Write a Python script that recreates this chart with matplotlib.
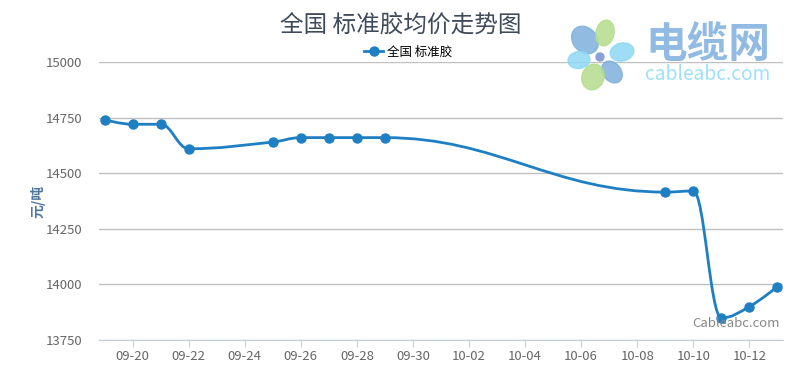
import numpy as np
import pandas as pd
import matplotlib
matplotlib.use("Agg")
import matplotlib.pyplot as plt
import matplotlib.dates as mdates
from matplotlib.path import Path
from matplotlib.patches import PathPatch, Ellipse
from matplotlib.lines import Line2D

plt.rcParams['font.family'] = ['Noto Sans CJK SC', 'DejaVu Sans']

# data
dates = ["2018-09-19", "2018-09-20", "2018-09-21", "2018-09-22", "2018-09-25",
         "2018-09-26", "2018-09-27", "2018-09-28", "2018-09-29", "2018-10-09",
         "2018-10-10", "2018-10-11", "2018-10-12", "2018-10-13"]
prices = [14740, 14720, 14720, 14610, 14640, 14660, 14660, 14660, 14660,
          14415, 14420, 13850, 13900, 13990]
tick_dates = pd.date_range("2018-09-20", "2018-10-12", freq="2D")
y_ticks = [13750, 14000, 14250, 14500, 14750, 15000]

c_line = "#1f7fc3"

x = mdates.date2num(pd.to_datetime(dates))
y = np.array(prices, dtype=float)


def spline_path(xs, ys, smoothing=1.5):
    # highcharts style spline: control points from neighbours
    denom = smoothing + 1
    n = len(xs)
    left = [None] * n
    right = [None] * n
    for i in range(1, n - 1):
        px, py = xs[i], ys[i]
        lx, ly = xs[i - 1], ys[i - 1]
        nx, ny = xs[i + 1], ys[i + 1]
        lcx = (smoothing * px + lx) / denom
        lcy = (smoothing * py + ly) / denom
        rcx = (smoothing * px + nx) / denom
        rcy = (smoothing * py + ny) / denom
        if rcx != lcx:
            corr = (rcy - lcy) * (rcx - px) / (rcx - lcx) + py - rcy
            lcy += corr
            rcy += corr
        if lcy > ly and lcy > py:
            lcy = max(ly, py)
            rcy = 2 * py - lcy
        elif lcy < ly and lcy < py:
            lcy = min(ly, py)
            rcy = 2 * py - lcy
        if rcy > ny and rcy > py:
            rcy = max(ny, py)
            lcy = 2 * py - rcy
        elif rcy < ny and rcy < py:
            rcy = min(ny, py)
            lcy = 2 * py - rcy
        left[i] = (lcx, lcy)
        right[i] = (rcx, rcy)
    verts = [(xs[0], ys[0])]
    codes = [Path.MOVETO]
    for i in range(1, n):
        c1 = right[i - 1] if right[i - 1] is not None else (xs[i - 1], ys[i - 1])
        c2 = left[i] if left[i] is not None else (xs[i], ys[i])
        verts += [c1, c2, (xs[i], ys[i])]
        codes += [Path.CURVE4] * 3
    return Path(verts, codes)


fig = plt.figure(figsize=(8.01, 3.68), dpi=100)
ax = fig.add_axes([99 / 801, 28 / 368, 684 / 801, 278 / 368])

ax.set_ylim(13750, 15000)
ax.set_xlim(x[0] - 0.2, x[-1] + 0.2)
ax.set_yticks(y_ticks)
ax.set_xticks(mdates.date2num(tick_dates))
ax.xaxis.set_major_formatter(mdates.DateFormatter("%m-%d"))
ax.grid(axis="y", color="#c0c0c0", linewidth=1)
ax.set_axisbelow(True)
for s in ["top", "right", "left"]:
    ax.spines[s].set_visible(False)
ax.spines["bottom"].set_color("#c0d0e0")
ax.tick_params(axis="y", length=0, labelsize=9.5, labelcolor="#666666", pad=12)
ax.tick_params(axis="x", length=5, color="#c0d0e0", labelsize=9.5, labelcolor="#666666", pad=2)

ax.add_patch(PathPatch(spline_path(x, y), facecolor="none", edgecolor=c_line, linewidth=2, zorder=3))
ax.plot(x, y, "o", color=c_line, markersize=6.5, zorder=4)

ax.set_ylabel("元/吨", color="#4d759e", fontsize=10, fontweight="bold", labelpad=0)

fig.text(0.5, 1 - 25 / 368, "全国 标准胶均价走势图", ha="center", va="center",
         fontsize=17, color="#3e4a5a")

handle = Line2D([], [], color=c_line, linewidth=2, marker="o", markersize=6.5)
ax.legend([handle], ["全国 标准胶"], loc="center", bbox_to_anchor=(408 / 801, 1 - 52 / 368),
          bbox_transform=fig.transFigure, frameon=False, fontsize=9,
          handlelength=1.5, handletextpad=0.3, borderpad=0)

# watermark logo
cx0, cy0 = 600, 57
for px, py, L, W, col in [(585, 40, 30, 24, "#7fb0dc"), (605, 33, 26, 18, "#b4dc8c"),
                          (622, 52, 24, 18, "#8ed8f4"), (612, 72, 24, 18, "#7fb0dc"),
                          (593, 77, 26, 22, "#b4dc8c"), (579, 60, 22, 17, "#8ed8f4")]:
    ang = np.degrees(np.arctan2(-(py - cy0), px - cx0))
    fig.patches.append(Ellipse((px, 368 - py), L, W, angle=ang, transform=None,
                               color=col, alpha=0.85, zorder=5))
fig.patches.append(Ellipse((cx0, 368 - cy0), 8, 8, transform=None, color="#8aa0d8", zorder=6))
fig.text(645 / 801, 1 - 45 / 368, "电缆网", ha="left", va="center", fontsize=30,
         fontweight="bold", color="#8cb8e2", alpha=0.95)
fig.text(645 / 801, 1 - 75 / 368, "cableabc.com", ha="left", va="center", fontsize=13.8,
         color="#9ee0f8")
ax.text(0.995, 0.06, "Cableabc.com", transform=ax.transAxes, ha="right", va="center",
        fontsize=9.5, color="#888888", zorder=5)

fig.savefig("out.png", dpi=100)
